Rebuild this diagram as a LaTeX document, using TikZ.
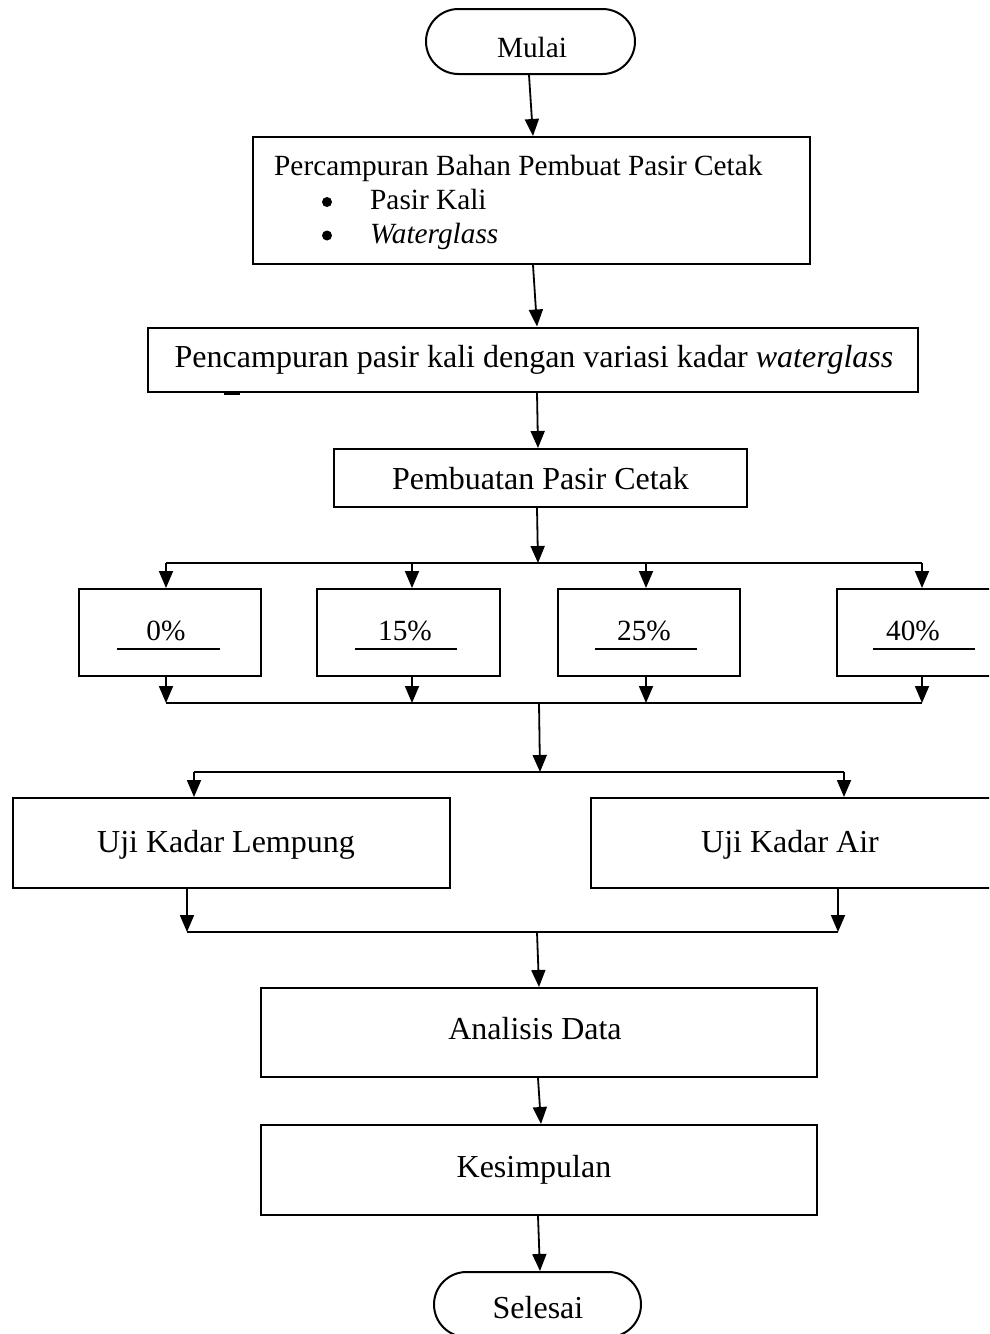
\documentclass[tikz,border=0pt]{standalone}
\usepackage{fontspec}
\setmainfont{Liberation Serif}
\usetikzlibrary{arrows.meta,shapes.misc}
\begin{document}
\begin{tikzpicture}[x=1pt,y=-1pt,
  box/.style={draw,line width=2pt,rectangle,inner sep=0pt},
  term/.style={draw,line width=2pt,rounded rectangle,inner sep=0pt},
  txt/.style={inner sep=0pt,font=\fontsize{29.3}{33.5}\selectfont},
  bigtxt/.style={inner sep=0pt,font=\fontsize{32}{38}\selectfont},
  conn/.style={line width=1.8pt},
  arr/.style={conn,-{Triangle[length=17pt,width=14pt]}},
  uline/.style={line width=1.5pt},
]
\useasboundingbox (0,0) rectangle (989,1334);
\clip (0,0) rectangle (989,1334);
\fill[white] (0,0) rectangle (989,1334);

% shapes
\node[term,minimum width=209pt,minimum height=65pt] (mulai) at (530.5,41.5) {};
\node[box,minimum width=557pt,minimum height=127pt] (b1) at (531.5,200.5) {};
\node[box,minimum width=770pt,minimum height=64pt] (b2) at (533,359.5) {};
\node[box,minimum width=413pt,minimum height=58pt] (b3) at (540.5,478) {};
\node[box,minimum width=182pt,minimum height=87pt] (p0) at (170,632.5) {};
\node[box,minimum width=183pt,minimum height=87pt] (p15) at (408.5,632.5) {};
\node[box,minimum width=182pt,minimum height=87pt] (p25) at (649,632.5) {};
\node[box,minimum width=182pt,minimum height=87pt] (p40) at (928,632.5) {};
\node[box,minimum width=437pt,minimum height=90pt] (uji1) at (231.5,843) {};
\node[box,minimum width=437pt,minimum height=90pt] (uji2) at (809.5,843) {};
\node[box,minimum width=556pt,minimum height=89pt] (anal) at (539,1032.5) {};
\node[box,minimum width=556pt,minimum height=90pt] (kes) at (539,1170) {};
\node[term,minimum width=207pt,minimum height=65pt] (selesai) at (537.5,1304.5) {};

% texts
\node[txt,anchor=base] (mulait) at (532,57) {Mulai};
\node[txt,anchor=base west] (b1t) at (274,175) {Percampuran Bahan Pembuat Pasir Cetak};
\fill (327,202) circle (5pt);
\fill (327,235.5) circle (5pt);
\node[txt,anchor=base west,align=left] (b1list) at (370,243)
  {Pasir Kali\\ \textit{Waterglass}};
\node[bigtxt,anchor=base] (b2t) at (534,367) {Pencampuran pasir kali dengan variasi kadar \textit{waterglass}};
\node[bigtxt,anchor=base] (b3t) at (540.5,489) {Pembuatan Pasir Cetak};
\node[txt,anchor=base] (p0t) at (166,640) {0\%};
\node[txt,anchor=base] (p15t) at (405,640) {15\%};
\node[txt,anchor=base] (p25t) at (644,640) {25\%};
\node[txt,anchor=base] (p40t) at (913,640) {40\%};
\node[bigtxt,anchor=base] (uji1t) at (226,852) {Uji Kadar Lempung};
\node[bigtxt,anchor=base] (uji2t) at (790,852) {Uji Kadar Air};
\node[bigtxt,anchor=base] (analt) at (535,1039) {Analisis Data};
\node[bigtxt,anchor=base] (kest) at (534,1177) {Kesimpulan};
\node[bigtxt,anchor=base] (selesait) at (538,1318) {Selesai};

% underlines in percentage boxes
\draw[uline] (117,649) -- (220,649);
\draw[uline] (355,649) -- (457,649);
\draw[uline] (595,649) -- (697,649);
\draw[uline] (873,649) -- (975,649);

% small mark under box 2
\draw[line width=2.5pt] (224,393.5) -- (240,393.5);

% coordinates for junction lines
\coordinate (t0) at (166,563);
\coordinate (t15) at (412,563);
\coordinate (t25) at (646,563);
\coordinate (t40) at (922,563);
\coordinate (tin) at (538,563);
\coordinate (u0) at (166,703);
\coordinate (u15) at (412,703);
\coordinate (u25) at (646,703);
\coordinate (u40) at (922,703);
\coordinate (uout) at (539,703);
\coordinate (vin) at (540,772);
\coordinate (v1) at (194,772);
\coordinate (v2) at (844,772);
\coordinate (w1) at (187,932);
\coordinate (w2) at (838,932);
\coordinate (wout) at (537,932);

% connectors
\draw[arr] ([xshift=-1.5pt]mulai.south) -- ([xshift=1.5pt]b1.north);
\draw[arr] ([xshift=1.5pt]b1.south) -- ([xshift=4pt]b2.north);
\draw[arr] ([xshift=4pt]b2.south) -- ([xshift=-2.5pt]b3.north);
\draw[arr] ([xshift=-3.5pt]b3.south) -- (tin);
\draw[conn] (t0) -- (t40);
\draw[arr] (t0) -- (t0 |- p0.north);
\draw[arr] (t15) -- (t15 |- p15.north);
\draw[arr] (t25) -- (t25 |- p25.north);
\draw[arr] (t40) -- (t40 |- p40.north);
\draw[arr] (u0 |- p0.south) -- (u0);
\draw[arr] (u15 |- p15.south) -- (u15);
\draw[arr] (u25 |- p25.south) -- (u25);
\draw[arr] (u40 |- p40.south) -- (u40);
\draw[conn] (u0) -- (u40);
\draw[arr] (uout) -- (vin);
\draw[conn] (v1) -- (v2);
\draw[arr] (v1) -- (v1 |- uji1.north);
\draw[arr] (v2) -- (v2 |- uji2.north);
\draw[arr] (w1 |- uji1.south) -- (w1);
\draw[arr] (w2 |- uji2.south) -- (w2);
\draw[conn] (w1) -- (w2);
\draw[arr] (wout) -- (anal.north);
\draw[arr] ([xshift=-1pt]anal.south) -- ([xshift=2pt]kes.north);
\draw[arr] ([xshift=-1pt]kes.south) -- ([xshift=2.5pt]selesai.north);
\end{tikzpicture}
\end{document}
